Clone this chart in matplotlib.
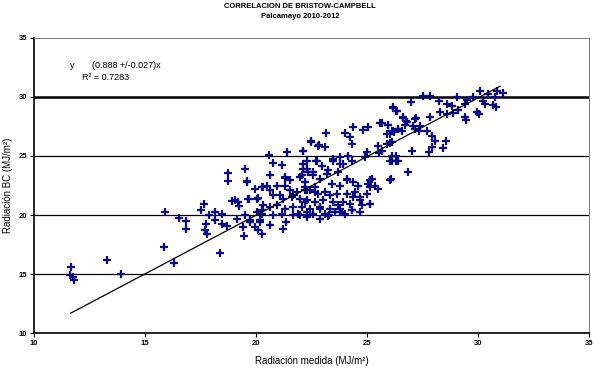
import matplotlib
matplotlib.use("Agg")
import matplotlib.pyplot as plt
import numpy as np

plt.rcParams['font.family'] = ['Liberation Sans', 'DejaVu Sans']

title_lines = ["CORRELACION DE BRISTOW-CAMPBELL", "Palcamayo 2010-2012"]
x_label = "Radiación medida (MJ/m²)"
y_label = "Radiación BC (MJ/m²)"
eq_text = "y = (0.888 +/-0.027)x"
r2_text = "R² = 0.7283"
ticks = [10, 15, 20, 25, 30, 35]

# regression line as drawn (endpoints)
fit_x = [11.65, 31.0]
fit_y = [11.7, 30.9]

pts = [
    (11.67, 15.62), (11.62, 14.92), (11.74, 14.72), (11.80, 14.55), (13.27, 16.18), (13.91, 15.0),
    (15.90, 20.25), (15.87, 17.30), (16.31, 15.95), (16.55, 19.78), (16.85, 19.49), (16.85, 18.85),
    (17.67, 20.96), (17.52, 20.40), (17.88, 19.97), (17.73, 19.27), (17.70, 18.71), (17.78, 18.43),
    (22.46, 26.24), (22.81, 25.88), (20.59, 25.09), (21.41, 25.31), (22.13, 25.40), (22.70, 24.61),
    (20.78, 24.38), (21.16, 24.27), (22.13, 24.33), (22.28, 23.91), (19.50, 23.91), (18.73, 23.54),
    (18.75, 22.84), (20.63, 23.35), (19.61, 22.84), (21.31, 23.20), (21.53, 22.93), (21.98, 23.20),
    (22.21, 22.78), (22.58, 23.35), (19.95, 22.23), (20.26, 22.36), (20.48, 22.50), (20.63, 22.08),
    (21.08, 21.66), (21.53, 22.08), (21.68, 21.66), (22.28, 22.08), (22.66, 21.94), (18.91, 21.16),
    (19.20, 21.10), (19.25, 20.73), (19.70, 21.38), (20.10, 21.47), (18.15, 20.25), (18.45, 20.12),
    (18.15, 19.55), (18.45, 19.27), (18.68, 19.05), (19.13, 19.70), (19.50, 19.97), (19.73, 19.55),
    (19.95, 18.99), (20.18, 19.55), (20.26, 20.40), (20.63, 19.13), (21.35, 19.41), (21.23, 18.85),
    (19.47, 18.20), (20.26, 18.43), (18.38, 16.80), (21.68, 19.97), (21.98, 19.97),
    (21.31, 23.12), (22.06, 23.35), (22.36, 23.63), (19.58, 22.78), (20.33, 22.36), (20.93, 22.50),
    (21.31, 22.50), (21.83, 21.94), (22.21, 22.08), (19.05, 21.24), (19.65, 21.38), (20.03, 21.38),
    (20.78, 21.66), (21.23, 21.38), (21.61, 21.52), (21.98, 21.38), (22.21, 21.10), (20.33, 20.82),
    (20.63, 20.67), (20.93, 20.82), (21.31, 20.54), (21.68, 20.67), (20.03, 20.25), (20.26, 20.12),
    (20.78, 19.97), (21.16, 20.12), (21.91, 20.12), (22.28, 19.97), (19.73, 19.41), (20.18, 19.41),
    (19.43, 18.99), (20.10, 18.71),
    (22.96, 24.19), (23.78, 24.33), (23.48, 24.55), (22.13, 23.91), (23.18, 23.49), (22.88, 23.07),
    (24.09, 23.07), (24.38, 22.78), (24.61, 22.50), (25.14, 22.93), (25.36, 22.50), (25.14, 22.36),
    (23.78, 22.50), (23.41, 22.65), (22.21, 22.36), (22.43, 22.08), (22.66, 22.36), (22.81, 21.80),
    (23.11, 21.94), (23.33, 21.66), (23.64, 21.80), (24.09, 21.80), (24.46, 21.94), (24.68, 21.52),
    (24.99, 21.80), (22.28, 21.24), (22.66, 21.10), (23.03, 21.24), (23.48, 21.10), (23.93, 21.10),
    (24.23, 20.96), (22.06, 20.67), (22.43, 20.54), (22.88, 20.67), (23.33, 20.54), (23.78, 20.54),
    (24.76, 20.82), (25.14, 20.96), (22.58, 20.12), (23.11, 20.12), (23.56, 20.25), (24.01, 20.12),
    (24.68, 20.25), (22.28, 19.83), (22.88, 19.70), (23.86, 20.25), (24.31, 20.40), (23.30, 20.04),
    (26.18, 29.11), (26.34, 28.83), (26.64, 28.26), (25.59, 27.76), (25.96, 27.62), (26.79, 27.84),
    (24.38, 27.48), (25.06, 27.48), (24.83, 27.20), (26.18, 27.14), (26.41, 27.28), (23.15, 26.95),
    (24.01, 26.95), (24.23, 26.64), (26.04, 26.86), (22.48, 26.21), (22.84, 25.94), (23.11, 25.79),
    (24.31, 26.02), (26.04, 26.07), (25.51, 25.88), (25.55, 25.23), (22.13, 25.46), (24.99, 25.31),
    (24.16, 25.03), (23.78, 24.89), (23.48, 24.76), (24.91, 24.89), (26.11, 24.61), (26.41, 24.61),
    (22.28, 24.53), (22.73, 24.53), (24.31, 24.53), (23.93, 24.33), (23.26, 23.77), (22.58, 23.63),
    (23.71, 23.63), (26.86, 23.63), (24.09, 22.93), (25.06, 22.65), (25.51, 22.23), (25.21, 23.07),
    (26.04, 22.93), (24.68, 21.24), (25.14, 20.96), (24.38, 21.52), (23.78, 20.25), (24.31, 20.40),
    (22.88, 20.54), (22.28, 20.25), (23.26, 19.89), (23.71, 20.82),
    (27.54, 30.09), (27.84, 30.03), (29.04, 30.01), (29.79, 30.01), (30.09, 30.46), (30.46, 30.24),
    (30.87, 30.46), (31.14, 30.29), (30.77, 29.95), (26.97, 29.53), (28.26, 29.67), (28.59, 29.39),
    (28.82, 29.25), (29.41, 29.39), (29.52, 29.73), (30.24, 29.67), (30.32, 29.39), (30.69, 29.31),
    (30.81, 29.11), (26.18, 29.02), (26.31, 28.77), (28.29, 28.68), (28.59, 28.55), (28.89, 28.60),
    (29.11, 28.89), (29.94, 28.68), (30.06, 28.55), (26.61, 28.21), (27.84, 28.26), (29.41, 28.26),
    (29.46, 28.04), (25.66, 27.76), (25.96, 27.65), (26.76, 27.98), (26.71, 27.65), (27.16, 28.13),
    (27.09, 27.56), (27.16, 27.28), (27.39, 27.56), (27.36, 27.14), (27.69, 27.14), (26.41, 27.28),
    (26.56, 27.14), (26.11, 27.14), (26.22, 27.00), (25.89, 26.86), (27.91, 26.72), (28.06, 26.24),
    (28.56, 26.24), (27.91, 25.73), (27.81, 25.31), (28.44, 25.68), (27.01, 25.46), (26.11, 26.15),
    (25.89, 26.02), (25.66, 25.46), (26.11, 25.03), (26.31, 25.03), (26.04, 24.55), (26.31, 24.55),
    (26.07, 23.07), (27.21, 28.21),
]
meas_x = [p[0] for p in pts]
bc_y = [p[1] for p in pts]

fig = plt.figure(figsize=(5.94, 3.69), dpi=100)
ax = fig.add_axes([34/594, 1 - 333.3/369, (589 - 34)/594, (333.3 - 37.7)/369])

ax.set_xlim(10, 35)
ax.set_ylim(10, 35)
ax.set_xticks(ticks)
ax.set_yticks(ticks)
ax.set_xticklabels([str(t) for t in ticks], fontsize=5.5, fontweight='bold')
ax.set_yticklabels([str(t) for t in ticks], fontsize=5.5, fontweight='bold')
ax.tick_params(length=3, width=0.8, pad=2, direction='out')

for g in [15, 20, 25]:
    ax.axhline(g, color='black', lw=0.9, zorder=1)
ax.axhline(30, color='black', lw=1.8, zorder=1)

ax.spines['top'].set_color('#808080')
ax.spines['right'].set_color('#808080')
ax.spines['left'].set_linewidth(1.2)
ax.spines['bottom'].set_linewidth(1.2)

ax.plot(meas_x, bc_y, linestyle='none', marker='+', ms=5.5, mew=1.6,
        color='#0b0b85', zorder=3)
ax.plot(fit_x, fit_y, color='black', lw=0.9, zorder=4)

ax.set_xlabel(x_label, fontsize=7, labelpad=6)
ax.set_ylabel(y_label, fontsize=7, labelpad=4)

ax.text(70, 64, "", fontsize=1)
fig.text(70/594, 1 - 66/369, "y", fontsize=6.5, va='center')
fig.text(92/594, 1 - 66/369, eq_text.replace("y = ", ""), fontsize=6.5, va='center')
fig.text(82/594, 1 - 77/369, r2_text, fontsize=6.5, va='center')

fig.text(0.505, 1 - 7/369, title_lines[0], ha='center', va='center', fontsize=5.5, fontweight='bold')
fig.text(0.505, 1 - 17/369, title_lines[1], ha='center', va='center', fontsize=5.5, fontweight='bold')

fig.savefig("out.png", dpi=100)
